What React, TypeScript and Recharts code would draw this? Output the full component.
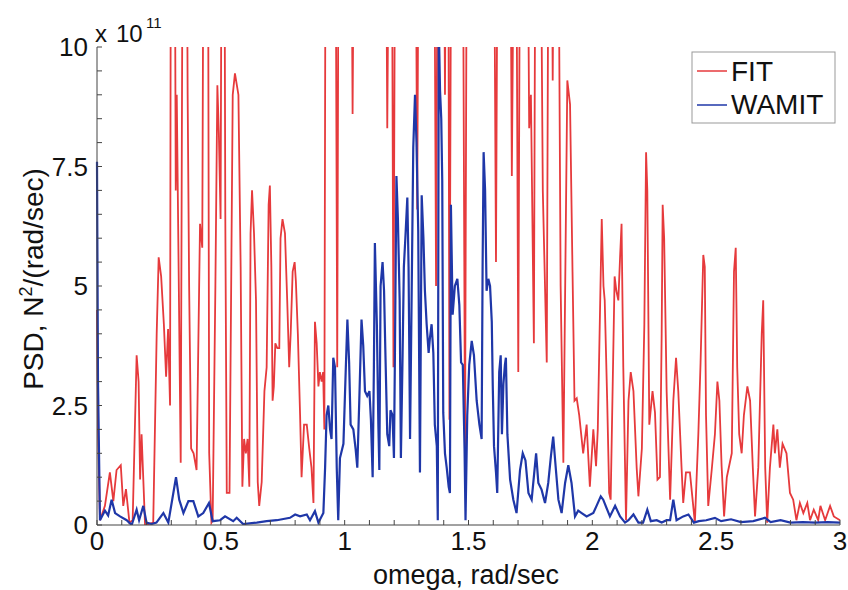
import { Line, LineChart, XAxis, YAxis } from 'recharts'

// omega in rad/sec, PSD in units of 1e11 N^2/(rad/sec); values above 10 run off the top of the axes
const fitOmega = [
  0, 0.004, 0.012, 0.032, 0.052, 0.066, 0.079, 0.096, 0.106, 0.117, 0.131, 0.144, 0.16, 0.168, 0.174, 0.18,
  0.194, 0.227, 0.241, 0.249, 0.259, 0.27, 0.279, 0.287, 0.295, 0.299, 0.312, 0.318, 0.322, 0.338, 0.348, 0.36,
  0.366, 0.372, 0.38, 0.39, 0.402, 0.416, 0.425, 0.432, 0.447, 0.453, 0.462, 0.467, 0.478, 0.486, 0.492, 0.499,
  0.505, 0.513, 0.518, 0.524, 0.535, 0.548, 0.557, 0.571, 0.58, 0.587, 0.594, 0.601, 0.608, 0.615, 0.62, 0.626,
  0.634, 0.642, 0.649, 0.655, 0.665, 0.676, 0.685, 0.693, 0.698, 0.704, 0.709, 0.714, 0.72, 0.728, 0.736, 0.741,
  0.749, 0.759, 0.768, 0.776, 0.782, 0.79, 0.798, 0.803, 0.811, 0.82, 0.826, 0.836, 0.847, 0.857, 0.866, 0.874,
  0.88, 0.887, 0.894, 0.9, 0.907, 0.913, 0.918, 0.925, 0.945, 0.962, 0.97, 0.978, 1.0, 1.025, 1.032, 1.04,
  1.1, 1.165, 1.172, 1.18, 1.19, 1.197, 1.205, 1.25, 1.285, 1.293, 1.3, 1.33, 1.36, 1.369, 1.377, 1.4,
  1.405, 1.41, 1.418, 1.423, 1.432, 1.475, 1.486, 1.495, 1.55, 1.6, 1.611, 1.62, 1.668, 1.675, 1.682, 1.695,
  1.701, 1.71, 1.735, 1.745, 1.752, 1.764, 1.772, 1.79, 1.8, 1.816, 1.825, 1.835, 1.84, 1.848, 1.862, 1.872,
  1.883, 1.899, 1.91, 1.92, 1.928, 1.937, 1.947, 1.963, 1.977, 1.99, 2.004, 2.015, 2.022, 2.038, 2.045, 2.05,
  2.06, 2.068, 2.074, 2.09, 2.097, 2.105, 2.112, 2.118, 2.125, 2.136, 2.146, 2.155, 2.166, 2.179, 2.186, 2.2,
  2.21, 2.217, 2.222, 2.23, 2.243, 2.253, 2.263, 2.273, 2.28, 2.284, 2.29, 2.3, 2.314, 2.327, 2.338, 2.347,
  2.36, 2.367, 2.378, 2.394, 2.414, 2.428, 2.437, 2.448, 2.454, 2.459, 2.468, 2.482, 2.495, 2.505, 2.513, 2.522,
  2.532, 2.543, 2.563, 2.572, 2.579, 2.585, 2.593, 2.603, 2.612, 2.626, 2.637, 2.648, 2.657, 2.67, 2.684, 2.69,
  2.698, 2.706, 2.717, 2.731, 2.737, 2.747, 2.757, 2.768, 2.784, 2.798, 2.811, 2.824, 2.838, 2.852, 2.868, 2.879,
  2.894, 2.912, 2.921, 2.94, 2.96, 2.975, 3.0,
]
const fitPsd = [
  4.5, 2.0, 0.1, 0.4, 1.1, 0.5, 1.15, 1.25, 0.4, 0.75, 0.05, 0.1, 3.55, 3.0, 0.95, 1.9,
  0.0, 0.05, 4.0, 5.6, 5.2, 4.2, 3.1, 4.1, 2.5, 16, 16, 7.0, 9.0, 1.3, 16, 16,
  9.0, 5.0, 1.6, 1.5, 1.15, 6.3, 5.8, 16, 16, 1.5, 0.05, 0.1, 5.0, 9.2, 8.2, 6.4,
  16, 16, 6.5, 0.67, 0.67, 9.0, 9.45, 9.0, 5.4, 0.8, 1.8, 1.5, 1.8, 0.8, 6.1, 7.0,
  6.1, 4.7, 0.9, 0.4, 0.9, 2.8, 3.3, 6.7, 7.1, 5.4, 2.6, 2.9, 3.8, 3.7, 3.7, 6.0,
  6.4, 6.1, 4.7, 3.3, 4.0, 5.3, 5.5, 5.1, 4.0, 2.3, 1.0, 2.1, 2.1, 1.6, 1.2, 0.46,
  4.25, 3.8, 2.9, 3.2, 3.0, 3.2, 2.0, 18, 18, 15, 3.3, 18, 20, 15, 8.6, 15,
  20, 15, 8.3, 14, 14, 3.3, 15, 20, 15, 6.6, 15, 20, 15, 5.0, 15, 14,
  9.0, 14, 14, 2.2, 16, 16, 1.6, 16, 20, 16, 5.5, 16, 14, 7.3, 12, 10.5,
  3.2, 16, 16, 8.3, 9.0, 3.8, 16, 14, 7.0, 3.4, 16, 14, 9.3, 16, 14, 5.0,
  1.3, 9.3, 8.8, 5.3, 2.6, 2.65, 2.3, 1.5, 2.1, 0.8, 2.0, 1.23, 2.0, 6.4, 5.0, 4.7,
  2.6, 0.67, 0.53, 5.2, 4.9, 4.7, 5.6, 6.3, 3.3, 0.1, 2.6, 3.2, 2.8, 1.2, 0.6, 1.6,
  4.2, 7.8, 7.0, 2.1, 2.8, 2.35, 0.95, 1.0, 4.0, 6.7, 6.0, 2.8, 0.53, 2.6, 3.5, 2.8,
  1.23, 0.46, 1.1, 1.1, 0.05, 1.9, 3.4, 5.65, 5.4, 2.3, 0.4, 1.15, 1.9, 3.0, 2.6, 1.23,
  0.18, 1.0, 1.5, 5.3, 5.8, 3.3, 1.9, 1.5, 2.3, 2.9, 2.6, 1.2, 0.18, 1.2, 4.0, 4.7,
  1.2, 0.05, 1.2, 2.1, 1.5, 2.0, 1.2, 1.7, 1.5, 0.67, 0.53, 0.1, 0.46, 0.25, 0.46, 0.1,
  0.32, 0.1, 0.4, 0.1, 0.4, 0.18, 0.1,
]

const wamitOmega = [
  0, 0.004, 0.012, 0.032, 0.045, 0.059, 0.073, 0.093, 0.12, 0.14, 0.16, 0.17, 0.187, 0.2, 0.22, 0.24,
  0.268, 0.288, 0.319, 0.332, 0.349, 0.369, 0.389, 0.409, 0.429, 0.452, 0.467, 0.497, 0.517, 0.55, 0.564, 0.59,
  0.645, 0.685, 0.726, 0.779, 0.8, 0.82, 0.847, 0.86, 0.88, 0.894, 0.914, 0.921, 0.927, 0.934, 0.941, 0.947,
  0.954, 0.961, 0.968, 0.974, 0.981, 0.995, 1.005, 1.011, 1.018, 1.024, 1.035, 1.044, 1.051, 1.059, 1.068, 1.075,
  1.082, 1.091, 1.1, 1.106, 1.113, 1.118, 1.122, 1.13, 1.136, 1.14, 1.145, 1.153, 1.159, 1.164, 1.172, 1.18,
  1.185, 1.193, 1.199, 1.203, 1.209, 1.215, 1.222, 1.227, 1.234, 1.239, 1.245, 1.253, 1.258, 1.264, 1.27, 1.277,
  1.284, 1.29, 1.297, 1.304, 1.311, 1.318, 1.324, 1.331, 1.339, 1.344, 1.351, 1.358, 1.364, 1.372, 1.376, 1.38,
  1.385, 1.39, 1.394, 1.398, 1.405, 1.412, 1.42, 1.425, 1.429, 1.436, 1.445, 1.455, 1.463, 1.47, 1.477, 1.484,
  1.488, 1.495, 1.503, 1.513, 1.522, 1.533, 1.544, 1.553, 1.557, 1.561, 1.567, 1.573, 1.58, 1.587, 1.594, 1.598,
  1.603, 1.611, 1.616, 1.624, 1.63, 1.635, 1.641, 1.647, 1.651, 1.657, 1.668, 1.681, 1.694, 1.708, 1.719, 1.73,
  1.742, 1.755, 1.773, 1.782, 1.795, 1.809, 1.822, 1.833, 1.842, 1.853, 1.863, 1.876, 1.89, 1.903, 1.916, 1.93,
  1.943, 1.957, 1.977, 2.004, 2.017, 2.034, 2.044, 2.06, 2.071, 2.092, 2.112, 2.132, 2.146, 2.166, 2.186, 2.205,
  2.222, 2.236, 2.26, 2.28, 2.3, 2.314, 2.327, 2.34, 2.367, 2.388, 2.41, 2.43, 2.46, 2.495, 2.52, 2.56,
  2.6, 2.65, 2.697, 2.72, 2.76, 2.8, 2.85, 2.9, 2.95, 3.0,
]
const wamitPsd = [
  7.6, 3.0, 0.1, 0.3, 0.2, 0.53, 0.25, 0.18, 0.1, 0.0, 0.32, 0.1, 0.4, 0.05, 0.02, 0.05,
  0.25, 0.05, 1.0, 0.53, 0.25, 0.5, 0.5, 0.18, 0.25, 0.46, 0.08, 0.1, 0.18, 0.08, 0.15, 0.02,
  0.05, 0.08, 0.1, 0.15, 0.22, 0.18, 0.22, 0.1, 0.29, 0.05, 0.25, 1.2, 2.3, 2.5, 2.0, 1.8,
  3.5, 3.3, 1.2, 0.1, 1.4, 1.7, 3.35, 4.3, 3.4, 2.1, 2.0, 1.6, 1.2, 2.6, 4.3, 3.75,
  2.8, 2.7, 2.8, 2.2, 1.0, 3.3, 5.9, 4.2, 2.1, 1.15, 5.0, 5.5, 4.9, 3.7, 1.9, 1.65,
  2.4, 2.3, 1.4, 3.6, 7.3, 6.4, 4.7, 1.4, 3.6, 5.4, 6.0, 6.85, 5.4, 1.8, 4.6, 7.9,
  9.0, 8.0, 6.15, 1.1, 6.9, 6.0, 4.9, 4.2, 3.6, 3.9, 4.2, 3.6, 2.1, 1.65, 0.1, 10.5,
  9.1, 8.5, 7.2, 2.35, 1.5, 1.2, 0.8, 0.67, 6.7, 4.4, 5.0, 5.15, 4.6, 3.4, 3.35, 1.6,
  0.1, 2.3, 3.35, 3.85, 3.55, 2.6, 2.1, 1.8, 5.45, 7.8, 7.0, 4.9, 5.15, 5.0, 4.25, 2.9,
  1.65, 1.1, 0.67, 3.2, 3.55, 1.9, 2.95, 3.35, 3.5, 1.9, 0.95, 0.53, 0.25, 1.15, 1.5, 1.35,
  0.67, 0.53, 1.5, 0.88, 0.74, 0.46, 0.88, 1.45, 1.85, 1.15, 0.53, 0.25, 0.88, 1.25, 0.88, 0.18,
  0.3, 0.25, 0.18, 0.25, 0.4, 0.6, 0.53, 0.32, 0.18, 0.4, 0.18, 0.05, 0.1, 0.22, 0.05, 0.05,
  0.32, 0.08, 0.1, 0.05, 0.1, 0.1, 0.53, 0.1, 0.18, 0.22, 0.05, 0.08, 0.1, 0.15, 0.08, 0.12,
  0.06, 0.08, 0.15, 0.06, 0.1, 0.05, 0.06, 0.05, 0.06, 0.05,
]

const xTicks = [
  0, 0.1, 0.2, 0.3, 0.4, 0.5, 0.6, 0.7, 0.8, 0.9, 1, 1.1, 1.2, 1.3, 1.4, 1.5,
  1.6, 1.7, 1.8, 1.9, 2, 2.1, 2.2, 2.3, 2.4, 2.5, 2.6, 2.7, 2.8, 2.9, 3,
]
const yTicks = [0, 0.5, 1, 1.5, 2, 2.5, 3, 3.5, 4, 4.5, 5, 5.5, 6, 6.5, 7, 7.5, 8, 8.5, 9, 9.5, 10]

const series = [
  { name: 'FIT', color: '#e63a3c', width: 1.8 },
  { name: 'WAMIT', color: '#1f37a8', width: 2.2 },
]

const fitData = fitOmega.map((omega, i) => ({ omega, psd: fitPsd[i] }))
const wamitData = wamitOmega.map((omega, i) => ({ omega, psd: wamitPsd[i] }))

const FONT = '"Liberation Sans", Arial, Helvetica, sans-serif'
const AXIS = '#444'

// label only the major ticks, MATLAB style
const isMultiple = (v: number, step: number) => Math.abs(v / step - Math.round(v / step)) < 1e-6
const fmtX = (v: number) => (isMultiple(v, 0.5) ? String(v) : '')
const fmtY = (v: number) => (isMultiple(v, 2.5) ? String(v) : '')

export default function App() {
  return (
    <div style={{ position: 'relative', width: 848, height: 590, fontFamily: FONT, background: '#fff' }}>
      <style>{'body{margin:0}'}</style>
      <LineChart width={848} height={590} data={fitData} margin={{ top: 47, right: 8, bottom: 35, left: 36 }}>
        <XAxis
          type="number"
          dataKey="omega"
          domain={[0, 3]}
          ticks={xTicks}
          interval={0}
          tickFormatter={fmtX}
          height={30}
          stroke={AXIS}
          tickSize={-5}
          tickMargin={12}
          tick={{ fontSize: 26, fill: '#111', fontFamily: FONT }}
        />
        <YAxis
          type="number"
          domain={[0, 10]}
          allowDataOverflow
          ticks={yTicks}
          interval={0}
          tickFormatter={fmtY}
          width={61}
          stroke={AXIS}
          tickSize={-5}
          tickMargin={14}
          tick={{ fontSize: 26, fill: '#111', fontFamily: FONT }}
        />
        <Line
          data={fitData}
          dataKey="psd"
          name={series[0].name}
          stroke={series[0].color}
          strokeWidth={series[0].width}
          dot={false}
          activeDot={false}
          type="linear"
          isAnimationActive={false}
        />
        <Line
          data={wamitData}
          dataKey="psd"
          name={series[1].name}
          stroke={series[1].color}
          strokeWidth={series[1].width}
          dot={false}
          activeDot={false}
          type="linear"
          isAnimationActive={false}
        />
      </LineChart>

      <svg
        width={848}
        height={590}
        style={{ position: 'absolute', left: 0, top: 0, pointerEvents: 'none' }}
        fontFamily={FONT}
      >
        {/* exponent for the y axis */}
        <text x={95} y={42} fontSize={24} fill="#111">x</text>
        <text x={116} y={42} fontSize={24} fill="#111">10</text>
        <text x={146} y={28} fontSize={15} fill="#111">11</text>

        <text transform="translate(43,279) rotate(-90)" textAnchor="middle" fontSize={28} fill="#111">
          PSD, N<tspan dy={-11} fontSize={18}>2</tspan>
          <tspan dy={11}>/(rad/sec)</tspan>
        </text>
        <text x={466} y={584} textAnchor="middle" fontSize={27} fill="#111">
          omega, rad/sec
        </text>

        {/* legend */}
        <rect x={692} y={52} width={143} height={71} fill="#fff" stroke="#999" strokeWidth={1} />
        {series.map((s, i) => (
          <g key={s.name}>
            <line x1={697} x2={727} y1={71 + i * 34} y2={71 + i * 34} stroke={s.color} strokeWidth={1.5} />
            <text x={731} y={81 + i * 33} fontSize={28} fill="#111">
              {s.name}
            </text>
          </g>
        ))}
      </svg>
    </div>
  )
}
